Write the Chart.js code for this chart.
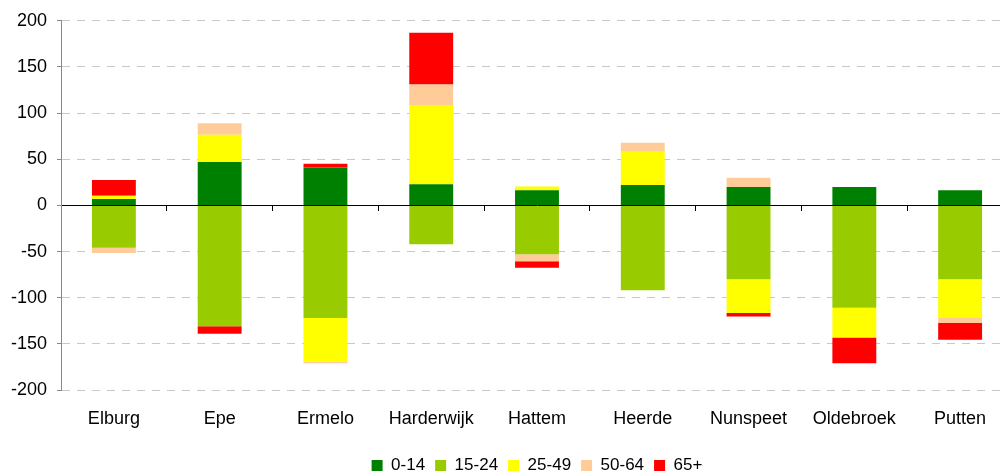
<!DOCTYPE html>
<html>
<head>
<meta charset="utf-8">
<script src="https://cdn.jsdelivr.net/npm/chart.js@4/dist/chart.umd.min.js"></script>
<style>
  html, body { margin: 0; padding: 0; background: #fff; overflow: hidden; width: 1000px; height: 472px; }
  #wrap { position: absolute; left: 0; top: 0; width: 1016px; height: 484px; }
</style>
</head>
<body>
<div id="wrap"><canvas id="c" width="1016" height="484"></canvas></div>
<script>
// Municipalities along the category axis
const gemeenten = ['Elburg', 'Epe', 'Ermelo', 'Harderwijk', 'Hattem', 'Heerde', 'Nunspeet', 'Oldebroek', 'Putten'];

// Change per age group
const leeftijd0_14  = [7, 47, 41, 23, 16.5, 22, 20, 20, 16.5];
const leeftijd15_24 = [-46, -131, -122, -42, -53, -92, -80, -111, -80];
const leeftijd25_49 = [3.5, 29.5, -47, 85, 4, 36, -36.5, -32, -42];
const leeftijd50_64 = [-5.5, 12.5, -2, 23, -7.5, 10, 10, 0, -5.5];
const leeftijd65plus = [17, -8, 4, 56, -7, 0, -4, -28, -18];

// Age group names
const groepen = ['0-14', '15-24', '25-49', '50-64', '65+'];

// Value axis
const yMin = -200, yMax = 200, yStap = 50;

const kleuren = ['#008000', '#99CC00', '#FFFF00', '#FFCC99', '#FF0000'];
const reeksen = [leeftijd0_14, leeftijd15_24, leeftijd25_49, leeftijd50_64, leeftijd65plus];

const FONT = '"Liberation Sans", Arial, Helvetica, sans-serif';

new Chart(document.getElementById('c'), {
  type: 'bar',
  data: {
    labels: gemeenten,
    datasets: reeksen.map((vals, i) => ({
      label: groepen[i],
      data: vals,
      backgroundColor: kleuren[i],
      borderWidth: 0,
      stack: 'leeftijd',
      categoryPercentage: 1,
      barPercentage: 0.415
    }))
  },
  options: {
    responsive: false,
    animation: false,
    devicePixelRatio: 1,
    layout: { padding: { top: 19, right: 3, left: 0, bottom: 0 } },
    plugins: {
      tooltip: { enabled: false },
      legend: {
        position: 'bottom',
        fullSize: false,
        labels: {
          boxWidth: 11,
          boxHeight: 11,
          padding: 10,
          color: '#000',
          font: { family: FONT, size: 17 }
        }
      }
    },
    scales: {
      x: {
        stacked: true,
        grid: { display: false, drawTicks: false },
        border: { display: false },
        ticks: { color: '#000', padding: 18, font: { family: FONT, size: 18 } },
        afterFit: s => { s.height = 57; }
      },
      xz: {
        type: 'category',
        position: { y: 0 },
        offset: true,
        z: 1,
        grid: { offset: true, drawOnChartArea: false, drawTicks: true, tickLength: 5, tickColor: '#000', tickWidth: 1 },
        border: { display: true, color: '#000', width: 1 },
        ticks: { display: false }
      },
      y: {
        stacked: true,
        min: yMin,
        max: yMax,
        ticks: {
          stepSize: yStap,
          color: '#000',
          padding: 10,
          font: { family: FONT, size: 18 }
        },
        grid: {
          color: ctx => (ctx.tick && ctx.tick.value === 0) ? 'rgba(0,0,0,0)' : '#c8c8c8',
          lineWidth: 1,
          tickLength: 4,
          tickColor: '#888',
          drawTicks: true
        },
        border: { display: true, color: '#888', width: 1, dash: [8, 7] },
        afterFit: s => { s.width = 61; }
      }
    }
  }
});
</script>
</body>
</html>
